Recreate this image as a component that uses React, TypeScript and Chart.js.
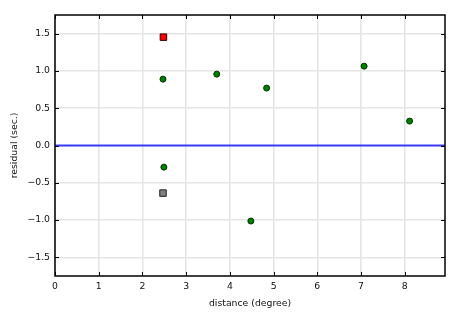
import React, { useEffect, useRef } from "react";
import { Chart, registerables } from "chart.js";

Chart.register(...registerables);

// ---- data ----
const circleX = [2.47, 3.7, 4.84, 7.07, 8.11, 2.49, 4.48];
const circleY = [0.89, 0.957, 0.77, 1.064, 0.327, -0.29, -1.013];
const redX = [2.48];
const redY = [1.453];
const greyX = [2.47];
const greyY = [-0.638];
const xTicks = [0, 1, 2, 3, 4, 5, 6, 7, 8];
const yTicks = [-1.5, -1.0, -0.5, 0.0, 0.5, 1.0, 1.5];
const xMin = 0;
const xMax = 8.92;
const yMin = -1.75;
const yMax = 1.75;
const refLineY = 0;

const FONT = "'DejaVu Sans', sans-serif";

const pts = (xs: number[], ys: number[]) => xs.map((x, i) => ({ x, y: ys[i] }));

const framePlugin = {
  id: "frame",
  afterDatasetsDraw(chart: any) {
    const { ctx, chartArea: a, scales } = chart;
    ctx.save();
    ctx.strokeStyle = "#000";
    ctx.lineWidth = 1;
    const tl = 4;
    ctx.beginPath();
    for (const v of xTicks) {
      const px = Math.round(scales.x.getPixelForValue(v)) + 0.5;
      ctx.moveTo(px, a.bottom);
      ctx.lineTo(px, a.bottom - tl);
      ctx.moveTo(px, a.top);
      ctx.lineTo(px, a.top + tl);
    }
    for (const v of yTicks) {
      const py = Math.round(scales.y.getPixelForValue(v)) + 0.5;
      ctx.moveTo(a.left, py);
      ctx.lineTo(a.left + tl, py);
      ctx.moveTo(a.right, py);
      ctx.lineTo(a.right - tl, py);
    }
    ctx.stroke();
    ctx.lineWidth = 1.5;
    ctx.strokeRect(a.left, a.top, a.right - a.left, a.bottom - a.top);
    ctx.restore();
  },
};

export default function App() {
  const ref = useRef<HTMLCanvasElement | null>(null);
  useEffect(() => {
    if (!ref.current) return;
    const chart = new Chart(ref.current, {
      type: "scatter",
      data: {
        datasets: [
          {
            data: pts(redX, redY),
            pointStyle: "rect",
            pointRadius: 4.6,
            backgroundColor: "#ff0000",
            borderColor: "#330000",
            borderWidth: 1,
          },
          {
            data: pts(greyX, greyY),
            pointStyle: "rect",
            pointRadius: 4.6,
            backgroundColor: "#808080",
            borderColor: "#222222",
            borderWidth: 1,
          },
          {
            data: pts(circleX, circleY),
            pointStyle: "circle",
            pointRadius: 3,
            backgroundColor: "#008000",
            borderColor: "#003300",
            borderWidth: 1,
          },
          {
            type: "line",
            data: [
              { x: xMin, y: refLineY },
              { x: xMax, y: refLineY },
            ],
            borderColor: "rgba(0,0,255,0.75)",
            borderWidth: 2,
            pointRadius: 0,
            showLine: true,
          } as any,
        ],
      },
      options: {
        animation: false,
        responsive: false,
        devicePixelRatio: 1,
        layout: { padding: { top: 15, right: 20, left: 0, bottom: 0 } },
        plugins: { legend: { display: false }, tooltip: { enabled: false } },
        scales: {
          x: {
            type: "linear",
            min: xMin,
            max: xMax,
            afterBuildTicks: (s: any) => {
              s.ticks = xTicks.map((v) => ({ value: v }));
            },
            afterFit: (s: any) => {
              s.height = 39;
              s.paddingLeft = 0;
              s.paddingRight = 0;
            },
            grid: { color: "#e4e4e4", lineWidth: 1.5, drawTicks: false },
            border: { display: false },
            ticks: {
              padding: 5,
              color: "#111",
              font: { family: FONT, size: 9.3 },
              callback: (v: any) => String(v),
            },
            title: {
              display: true,
              text: "distance (degree)",
              color: "#111",
              font: { family: FONT, size: 9.3 },
              padding: { top: 0, bottom: 6 },
            },
          },
          y: {
            type: "linear",
            min: yMin,
            max: yMax,
            afterBuildTicks: (s: any) => {
              s.ticks = yTicks.map((v) => ({ value: v }));
            },
            afterFit: (s: any) => {
              s.width = 55;
              s.paddingTop = 0;
              s.paddingBottom = 0;
            },
            grid: { color: "#e4e4e4", lineWidth: 1.5, drawTicks: false },
            border: { display: false },
            ticks: {
              padding: 5,
              color: "#111",
              font: { family: FONT, size: 9.3 },
              callback: (v: any) => {
                const n = Number(v);
                const s = Math.abs(n).toFixed(1);
                return n < -1e-9 ? "\u2212" + s : s;
              },
            },
            title: {
              display: true,
              text: "residual (sec.)",
              color: "#111",
              font: { family: FONT, size: 9.3 },
              padding: { top: 9, bottom: 0 },
            },
          },
        },
      },
      plugins: [framePlugin],
    } as any);
    return () => chart.destroy();
  }, []);
  return (
    <div style={{ position: "absolute", left: 0, top: 0, width: 465, height: 315 }}>
      <canvas ref={ref} width={465} height={315} style={{ display: "block" }} />
    </div>
  );
}
